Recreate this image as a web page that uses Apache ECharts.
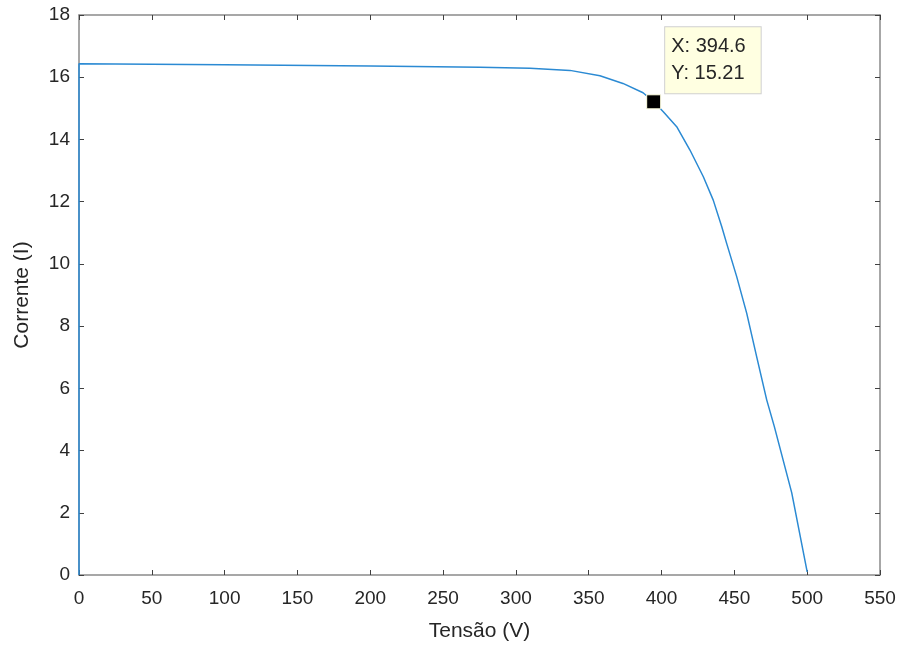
<!DOCTYPE html>
<html>
<head>
<meta charset="utf-8">
<script src="https://cdn.jsdelivr.net/npm/echarts@6/dist/echarts.min.js"></script>
<style>
  html, body { margin: 0; padding: 0; background: #fff; }
  #chart { width: 902px; height: 652px; }
</style>
</head>
<body>
<div id="chart"></div>
<script>
// curva I-V
let tensao = [0, 0, 100, 200, 275.3, 309.7, 337.1, 357.7, 373.5, 387.3, 394.6, 401.2, 410.4, 419.5, 428.7, 435.5, 441.3, 444.7, 451.6, 458.5, 465.3, 472.2, 477.5, 489.4, 500.0];
let corrente = [0, 16.43, 16.40, 16.36, 16.32, 16.29, 16.22, 16.05, 15.80, 15.50, 15.21, 14.89, 14.41, 13.66, 12.80, 12.05, 11.20, 10.66, 9.59, 8.41, 7.02, 5.63, 4.76, 2.64, 0.10];
let dataTip = [394.6, 15.21];

let xTicks = { min: 0, max: 550, interval: 50 };
let yTicks = { min: 0, max: 18, interval: 2 };

let chart = echarts.init(document.getElementById('chart'));

let axisColor = '#8a8a8a';
let textColor = '#262626';
let font = 'Liberation Sans, Arial, sans-serif';

function baseAxis(pos, show){
  return {
    type: 'value',
    position: pos,
    axisLine: { show: true, onZero: false, lineStyle: { color: axisColor, width: 1.5 } },
    axisTick: { show: true, inside: true, length: 5, lineStyle: { color: '#404040', width: 1 } },
    axisLabel: { show: show, color: textColor, fontSize: 19, fontFamily: font },
    splitLine: { show: false }
  };
}

let xBottom = Object.assign(baseAxis('bottom', true), xTicks, {
  name: 'Tensão (V)', nameLocation: 'middle', nameGap: 46,
  nameTextStyle: { color: textColor, fontSize: 21, fontFamily: font }
});
xBottom.axisLabel.margin = 14;
let xTop = Object.assign(baseAxis('top', false), xTicks);
let yLeft = Object.assign(baseAxis('left', true), yTicks, {
  name: 'Corrente (I)', nameLocation: 'middle', nameGap: 46,
  nameTextStyle: { color: textColor, fontSize: 21, fontFamily: font }
});
yLeft.axisLabel.margin = 9;
let yRight = Object.assign(baseAxis('right', false), yTicks);

chart.setOption({
  animation: false,
  grid: { left: 79, right: 22, top: 15, bottom: 77 },
  xAxis: [xBottom, xTop],
  yAxis: [yLeft, yRight],
  series: [
    {
      type: 'line',
      data: tensao.map(function(v, i){ return [v, corrente[i]]; }),
      showSymbol: false,
      smooth: false,
      lineStyle: { color: '#2b8ad3', width: 1.5 }
    },
    {
      type: 'scatter',
      data: [dataTip],
      symbol: 'rect',
      symbolSize: 14,
      itemStyle: { color: '#000', opacity: 1, borderColor: '#ffffe1', borderWidth: 1 },
      label: {
        show: true,
        position: [19, -67],
        formatter: 'X: 394.6\nY: 15.21',
        backgroundColor: '#ffffe1',
        borderColor: '#d0d0d0',
        borderWidth: 1,
        padding: [6, 15, 6, 6],
        color: textColor,
        fontSize: 20,
        lineHeight: 27,
        fontFamily: font
      },
      z: 5,
      zlevel: 1
    }
  ]
});
</script>
</body>
</html>
